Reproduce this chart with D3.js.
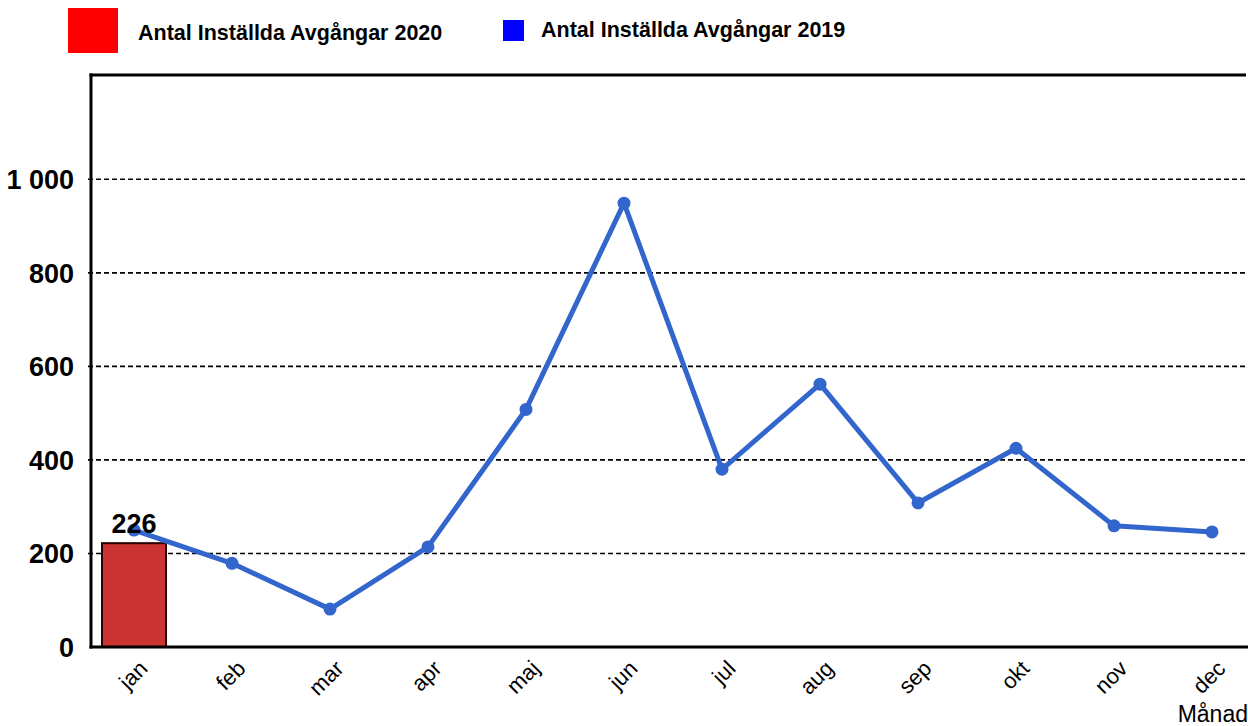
<!DOCTYPE html>
<html>
<head>
<meta charset="utf-8">
<script src="https://cdn.jsdelivr.net/npm/d3@7"></script>
<style>
body{margin:0;background:#fff;}
svg{display:block;font-family:"Liberation Sans",Arial,sans-serif;}
</style>
</head>
<body>
<svg id="chart" width="1248" height="726"></svg>
<script>
const months = ["jan","feb","mar","apr","maj","jun","jul","aug","sep","okt","nov","dec"];
const values2019 = [250,179,81,214,508,949,380,562,308,425,259,246];
const months2020 = ["jan"];
const values2020 = [222];
const labels2020 = ["226"];
const yTicks = [0,200,400,600,800,1000];
const legendLabels = ["Antal Inställda Avgångar 2020","Antal Inställda Avgångar 2019"];
const axisTitle = "Månad";

(function(){
const svg = d3.select("#chart");
const mLeft = 91, mTop = 75, mBottom = 647, mRight = 1248;

const x = d3.scaleBand().domain(months).range([85, 1261]).paddingInner(0).paddingOuter(0);
const y = d3.scaleLinear().domain([0, 1223]).range([mBottom, mTop]);
const fmt = d => d3.format(",")(d).replace(/,/g, " ");

// gridlines
svg.append("g").selectAll("line").data(yTicks.filter(d => d > 0)).join("line")
  .attr("x1", mLeft - 3).attr("x2", mRight)
  .attr("y1", d => y(d)).attr("y2", d => y(d))
  .attr("stroke", "#000").attr("stroke-width", 1.6).attr("stroke-dasharray", "5,3");

// y labels
svg.append("g").selectAll("text").data(yTicks).join("text")
  .attr("x", 74).attr("y", d => y(d)).attr("dy", "0.36em")
  .attr("text-anchor", "end").attr("font-size", 27).attr("font-weight", "bold")
  .text(d => fmt(d));

const bars = months2020.map((m, i) => ({m, v: values2020[i], l: labels2020[i]}));
const barW = 64;
svg.append("g").selectAll("rect").data(bars).join("rect")
  .attr("x", d => x(d.m) + x.bandwidth()/2 - barW/2)
  .attr("y", d => y(d.v))
  .attr("width", barW)
  .attr("height", d => y(0) - y(d.v))
  .attr("fill", "#CC3333").attr("stroke", "#2a0000").attr("stroke-width", 2);

// frame
svg.append("line").attr("x1", mLeft).attr("x2", mLeft).attr("y1", mTop - 1.5).attr("y2", mBottom + 1.5)
  .attr("stroke", "#000").attr("stroke-width", 3);
svg.append("line").attr("x1", mLeft - 1.5).attr("x2", 1246).attr("y1", mTop).attr("y2", mTop)
  .attr("stroke", "#000").attr("stroke-width", 3);
svg.append("line").attr("x1", mLeft - 1.5).attr("x2", mRight).attr("y1", mBottom).attr("y2", mBottom)
  .attr("stroke", "#000").attr("stroke-width", 3);

// line 2019
const data19 = months.map((m, i) => ({m, v: values2019[i]}));
const line = d3.line().x(d => x(d.m) + x.bandwidth()/2).y(d => y(d.v));
svg.append("path").datum(data19).attr("d", line)
  .attr("fill", "none").attr("stroke", "#3366CC").attr("stroke-width", 5).attr("stroke-linejoin", "round");
svg.append("g").selectAll("circle").data(data19).join("circle")
  .attr("cx", d => x(d.m) + x.bandwidth()/2).attr("cy", d => y(d.v)).attr("r", 6.5)
  .attr("fill", "#3366CC");

// bar labels
svg.append("g").selectAll("text").data(bars).join("text")
  .attr("x", d => x(d.m) + x.bandwidth()/2).attr("y", d => y(d.v) - 10)
  .attr("text-anchor", "middle").attr("font-size", 27).attr("font-weight", "bold")
  .text(d => d.l);

// x labels
svg.append("g").selectAll("text").data(months).join("text")
  .attr("transform", d => `translate(${x(d) + x.bandwidth()/2 + 4},${mBottom + 12}) rotate(-45)`)
  .attr("text-anchor", "end").attr("dy", "0.7em").attr("font-size", 22)
  .text(d => d);

// axis title
svg.append("text").attr("x", 1248).attr("y", 722).attr("text-anchor", "end")
  .attr("font-size", 23).text(axisTitle);

// legend
svg.append("rect").attr("x", 68).attr("y", 8).attr("width", 50).attr("height", 45).attr("fill", "#FF0000");
svg.append("text").attr("x", 138).attr("y", 40).attr("font-size", 21.5).attr("font-weight", "bold").text(legendLabels[0]);
svg.append("rect").attr("x", 503).attr("y", 20).attr("width", 21).attr("height", 21).attr("fill", "#0000FF");
svg.append("text").attr("x", 541).attr("y", 37).attr("font-size", 21.5).attr("font-weight", "bold").text(legendLabels[1]);
})();
</script>
</body>
</html>
